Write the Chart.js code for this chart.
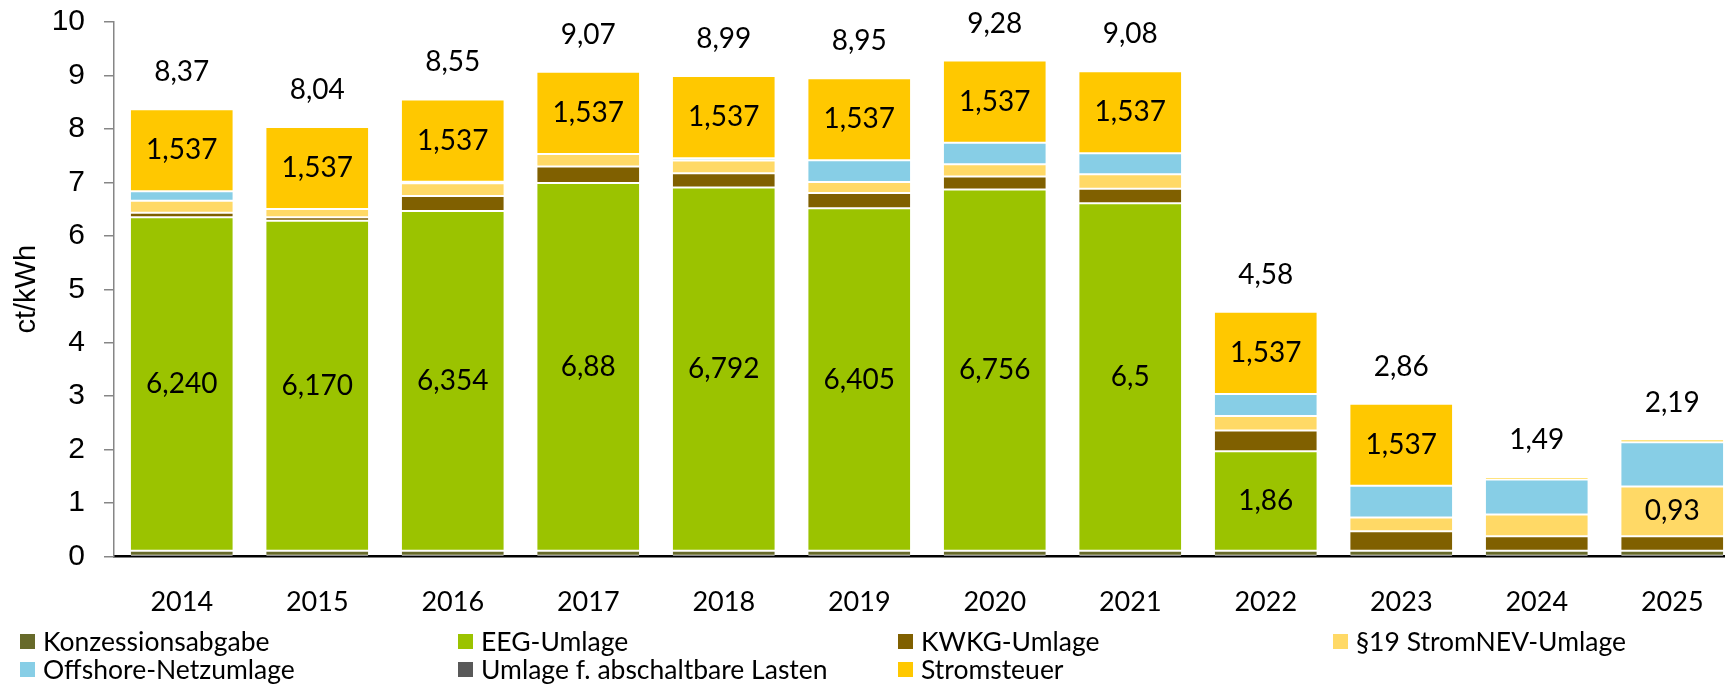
<!DOCTYPE html>
<html>
<head>
<meta charset="utf-8">
<script src="https://cdn.jsdelivr.net/npm/chart.js@4.4.1/dist/chart.umd.min.js"></script>
<style>
  html, body { margin: 0; padding: 0; background: #fff; overflow: hidden; width: 1725px; height: 687px; }
  #wrap { position: absolute; left: 0; top: 0; width: 1740px; height: 687px; }
  #legend { position: absolute; left: 0; top: 0; width: 1725px; height: 687px; pointer-events: none; }
  .li { position: absolute; display: flex; align-items: center; font-family: Lato, sans-serif; font-size: 26.5px; color: #000; white-space: nowrap; transform: translateY(-50%); }
  .sw { width: 15px; height: 15px; margin-right: 8px; flex: none; }
</style>
</head>
<body>
<div id="wrap"><canvas id="c" width="1740" height="687"></canvas></div>
<div id="legend"></div>
<script>
// ---- data ----
const years = ['2014','2015','2016','2017','2018','2019','2020','2021','2022','2023','2024','2025'];
const konzession = [0.11, 0.11, 0.11, 0.11, 0.11, 0.11, 0.11, 0.11, 0.11, 0.11, 0.11, 0.11];
const eeg        = [6.24, 6.17, 6.354, 6.88, 6.792, 6.405, 6.756, 6.5, 1.86, 0, 0, 0];
const kwkg       = [0.08, 0.07, 0.28, 0.306, 0.271, 0.288, 0.245, 0.271, 0.389, 0.365, 0.272, 0.27];
const stromnev   = [0.225, 0.15, 0.24, 0.237, 0.238, 0.202, 0.226, 0.271, 0.271, 0.258, 0.406, 0.933];
const offshore   = [0.178, 0, 0.03, 0, 0.042, 0.408, 0.406, 0.391, 0.413, 0.591, 0.652, 0.827];
const abschalt   = [0, 0, 0, 0, 0, 0, 0, 0, 0, 0, 0, 0];
const stromsteuer= [1.537, 1.537, 1.537, 1.537, 1.537, 1.537, 1.537, 1.537, 1.537, 1.537, 0.05, 0.05];

const eegLabels   = ['6,240','6,170','6,354','6,88','6,792','6,405','6,756','6,5','1,86','','',''];
const nevLabels   = ['','','','','','','','','','','','0,93'];
const steuerLabels= ['1,537','1,537','1,537','1,537','1,537','1,537','1,537','1,537','1,537','1,537','',''];
const totalLabels = ['8,37','8,04','8,55','9,07','8,99','8,95','9,28','9,08','4,58','2,86','1,49','2,19'];

const seriesNames = ['Konzessionsabgabe','EEG-Umlage','KWKG-Umlage','§19 StromNEV-Umlage','Offshore-Netzumlage','Umlage f. abschaltbare Lasten','Stromsteuer'];
const seriesColors = ['#676a2a','#9bc300','#806000','#ffd966','#87cee6','#595959','#ffc800'];

// ---- style config ----
const labelFont = '28px Lato';
const totalLift = 37;
const legendCols = [20, 458, 898, 1333];
const legendRows = [641, 669];

const seriesData = [konzession, eeg, kwkg, stromnev, offshore, abschalt, stromsteuer];
const seriesLabels = [null, eegLabels, null, nevLabels, null, null, steuerLabels];

const datasets = seriesNames.map((name, i) => ({
  label: name,
  data: seriesData[i],
  segLabels: seriesLabels[i],
  backgroundColor: seriesColors[i],
  borderColor: '#ffffff',
  borderWidth: { top: 1, bottom: 1, left: 0, right: 0 },
  borderSkipped: false,
  barPercentage: 0.753,
  categoryPercentage: 1.0
}));

const valueLabelPlugin = {
  id: 'valueLabels',
  afterDatasetsDraw(chart) {
    const ctx = chart.ctx;
    ctx.save();
    ctx.font = labelFont;
    ctx.fillStyle = '#000';
    ctx.textAlign = 'center';
    ctx.textBaseline = 'middle';
    chart.data.datasets.forEach((ds, di) => {
      if (!ds.segLabels) return;
      const meta = chart.getDatasetMeta(di);
      meta.data.forEach((bar, i) => {
        const t = ds.segLabels[i];
        if (!t) return;
        ctx.fillText(t, bar.x, (bar.y + bar.base) / 2);
      });
    });
    const ys = chart.scales.y;
    const meta0 = chart.getDatasetMeta(0);
    years.forEach((_, i) => {
      const sum = chart.data.datasets.reduce((s, d) => s + d.data[i], 0);
      ctx.fillText(totalLabels[i], meta0.data[i].x, ys.getPixelForValue(sum) - totalLift);
    });
    ctx.restore();
  }
};

const chart = new Chart(document.getElementById('c'), {
  type: 'bar',
  data: { labels: years, datasets },
  plugins: [valueLabelPlugin],
  options: {
    responsive: false,
    animation: false,
    devicePixelRatio: 1,
    layout: { padding: { top: 22, right: 0, bottom: 40, left: 0 } },
    plugins: { legend: { display: false }, tooltip: { enabled: false } },
    scales: {
      x: {
        stacked: true,
        grid: { display: false, drawTicks: false },
        border: { display: true, color: '#000000', width: 2.5 },
        ticks: { font: { family: 'Lato', size: 27 }, color: '#000', padding: 29 }
      },
      y: {
        stacked: true,
        min: 0, max: 10,
        afterFit(s) { s.width = 114; s.paddingTop = 0; s.paddingBottom = 0; },
        ticks: { stepSize: 1, font: { family: 'Liberation Sans', size: 30 }, color: '#000', padding: 19 },
        grid: { drawOnChartArea: false, drawTicks: true, tickLength: 10, color: '#868686', lineWidth: 1.5 },
        border: { display: true, color: '#868686', width: 1.5 },
        title: { display: true, text: 'ct/kWh', font: { family: 'Liberation Sans', size: 29 }, color: '#000', padding: { top: 10, bottom: 0 } }
      }
    }
  }
});

// HTML legend built from the chart's own legend items
const legendEl = document.getElementById('legend');
const items = Chart.defaults.plugins.legend.labels.generateLabels(chart);
items.forEach((it, k) => {
  const div = document.createElement('div');
  div.className = 'li';
  div.style.left = legendCols[k % 4] + 'px';
  div.style.top = legendRows[Math.floor(k / 4)] + 'px';
  const sw = document.createElement('span');
  sw.className = 'sw';
  sw.style.background = seriesColors[it.datasetIndex];
  const tx = document.createElement('span');
  tx.textContent = it.text;
  div.appendChild(sw);
  div.appendChild(tx);
  legendEl.appendChild(div);
});
</script>
</body>
</html>
